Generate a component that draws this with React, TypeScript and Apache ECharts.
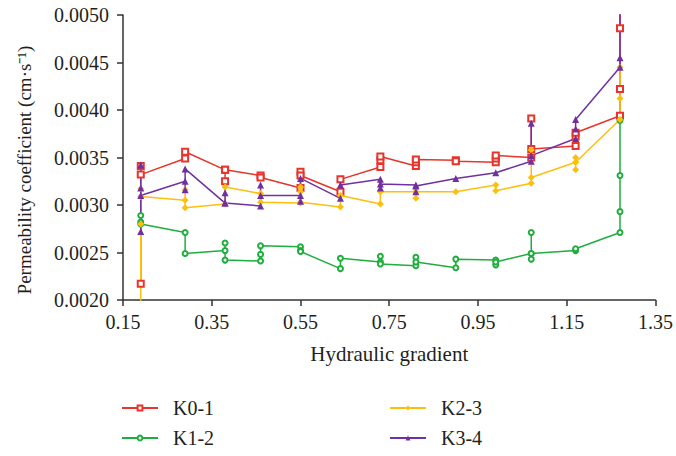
import React, { useEffect, useRef } from "react";
import * as echarts from "echarts";

// Hydraulic gradients (x positions of each measurement group)
const gradients = [0.19, 0.29, 0.38, 0.46, 0.55, 0.64, 0.73, 0.81, 0.9, 0.99, 1.07, 1.17, 1.27];

// Replicate permeability readings per gradient, in drawing order
const k01 = [
  [0.00217, 0.00341, 0.00332],
  [0.00349, 0.00356],
  [0.00337, 0.00325, 0.00337],
  [0.00331, 0.00329],
  [0.00318, 0.00335, 0.00331],
  [0.00314, 0.00327],
  [0.0034, 0.00347, 0.00351],
  [0.00341, 0.00345, 0.00348],
  [0.00347, 0.00346],
  [0.00345, 0.00349, 0.00352],
  [0.0035, 0.00391, 0.00359],
  [0.00362, 0.00372, 0.00376],
  [0.00394, 0.00422, 0.00486, 0.0052],
];
const k12 = [
  [0.00289, 0.00282, 0.0028],
  [0.00271, 0.00249],
  [0.00252, 0.0026, 0.00242],
  [0.00241, 0.00248, 0.00257],
  [0.00256, 0.00252, 0.00251],
  [0.00233, 0.00244],
  [0.0024, 0.00246, 0.00238],
  [0.00236, 0.00245, 0.0024],
  [0.00234, 0.00243],
  [0.00242, 0.00237, 0.0024],
  [0.00249, 0.00243, 0.00271, 0.00249],
  [0.00252, 0.00254],
  [0.00271, 0.00293, 0.00331, 0.00389],
];
const k23 = [
  [0.0018, 0.0028, 0.00317, 0.00309],
  [0.00305, 0.00316, 0.00297],
  [0.00301, 0.00319],
  [0.00312, 0.00303],
  [0.00302, 0.00319, 0.00314, 0.00303],
  [0.00298, 0.0031],
  [0.00301, 0.00315, 0.00314],
  [0.00314, 0.00307, 0.00314],
  [0.00314],
  [0.00321, 0.00315],
  [0.00323, 0.00358, 0.00329],
  [0.00345, 0.00337, 0.0035, 0.00345],
  [0.0039, 0.00412, 0.00445],
];
const k34 = [
  [0.00272, 0.00342, 0.00318, 0.0031],
  [0.00325, 0.00316, 0.00338],
  [0.00302, 0.00313, 0.00302],
  [0.00299, 0.00321, 0.0031],
  [0.0031, 0.00304, 0.00328],
  [0.00307, 0.00321],
  [0.00327, 0.00318, 0.00322],
  [0.00321, 0.00314, 0.0032],
  [0.00328],
  [0.00334],
  [0.00346, 0.00386, 0.00352],
  [0.0037, 0.0038, 0.0039],
  [0.00445, 0.00455, 0.0052],
];

const seriesNames = ["K0-1", "K1-2", "K2-3", "K3-4"];
const xTicks = { min: 0.15, max: 1.35, step: 0.2 };
const yTicks = { min: 0.002, max: 0.005, step: 0.0005 };

const FONT = "'Liberation Serif', 'Times New Roman', serif";
const TXT = "#231f20";

function toPoints(groups: number[][]) {
  const pts: number[][] = [];
  groups.forEach((g, i) => g.forEach((v) => pts.push([gradients[i], v])));
  return pts;
}

export default function App() {
  const ref = useRef<HTMLDivElement>(null);
  useEffect(() => {
    if (!ref.current) return;
    const chart = echarts.init(ref.current, undefined, { renderer: "svg" });
    const styles = [
      { color: "#e8342b", symbol: "emptyRect", size: 6 },
      { color: "#1fae3e", symbol: "emptyCircle", size: 5 },
      { color: "#fdbf0f", symbol: "diamond", size: 7 },
      { color: "#7030a0", symbol: "triangle", size: 7 },
    ];
    const datasets = [k01, k12, k23, k34];
    const legendText = { fontFamily: FONT, fontSize: 20, color: TXT, padding: [0, 0, 0, 10] };
    const legendBase = {
      orient: "vertical",
      top: 398,
      padding: 0,
      height: 58,
      itemWidth: 36,
      itemHeight: 6,
      itemGap: 10,
      textStyle: legendText,
    };
    chart.setOption({
      animation: false,
      grid: { left: 123, right: 18, top: 15, bottom: 156 },
      xAxis: {
        type: "value",
        min: xTicks.min,
        max: xTicks.max,
        interval: xTicks.step,
        name: "Hydraulic gradient",
        nameLocation: "middle",
        nameGap: 43,
        nameTextStyle: { fontFamily: FONT, fontSize: 21, color: TXT },
        axisLine: { lineStyle: { color: "#333", width: 1.5 } },
        axisTick: { length: 6, lineStyle: { color: "#333", width: 1.5 } },
        axisLabel: {
          margin: 12,
          fontFamily: FONT,
          fontSize: 20,
          color: TXT,
          formatter: (v: number) => v.toFixed(2),
        },
        splitLine: { show: false },
      },
      yAxis: {
        type: "value",
        min: yTicks.min,
        max: yTicks.max,
        interval: yTicks.step,
        axisLine: { show: true, lineStyle: { color: "#333", width: 1.5 } },
        axisTick: { show: true, length: 6, lineStyle: { color: "#333", width: 1.5 } },
        axisLabel: {
          margin: 14,
          fontFamily: FONT,
          fontSize: 20,
          color: TXT,
          formatter: (v: number) => v.toFixed(4),
        },
        splitLine: { show: false },
      },
      graphic: [
        {
          type: "text",
          x: 24,
          y: 170,
          rotation: Math.PI / 2,
          style: {
            text: "Permeability coefficient (cm·s⁻¹)",
            fontFamily: FONT,
            fontSize: 19,
            fill: TXT,
            textAlign: "center",
            textVerticalAlign: "middle",
          },
        },
      ],
      legend: [
        { ...legendBase, left: 121, data: [seriesNames[0], seriesNames[1]] },
        { ...legendBase, left: 389, data: [seriesNames[2], seriesNames[3]] },
      ],
      series: datasets.map((d, i) => ({
        type: "line",
        name: seriesNames[i],
        data: toPoints(d),
        symbol: styles[i].symbol,
        symbolSize: styles[i].size,
        showAllSymbol: true,
        clip: true,
        itemStyle: { color: styles[i].color },
        lineStyle: { color: styles[i].color, width: 1.5 },
      })),
    });
    return () => chart.dispose();
  }, []);
  return <div ref={ref} style={{ position: "absolute", left: 0, top: 0, width: 676, height: 456 }} />;
}
